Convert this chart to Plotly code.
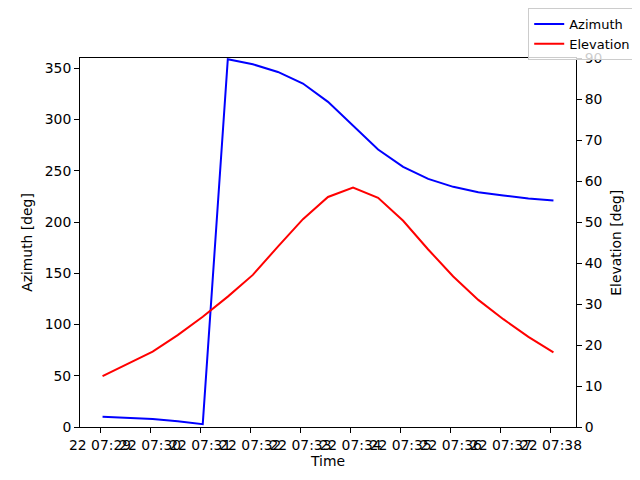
import plotly.graph_objects as go

# samples every 30 s
times = [
    "2024-01-22 07:29:03", "2024-01-22 07:29:33", "2024-01-22 07:30:03", "2024-01-22 07:30:33",
    "2024-01-22 07:31:03", "2024-01-22 07:31:33", "2024-01-22 07:32:03", "2024-01-22 07:32:33",
    "2024-01-22 07:33:03", "2024-01-22 07:33:33", "2024-01-22 07:34:03", "2024-01-22 07:34:33",
    "2024-01-22 07:35:03", "2024-01-22 07:35:33", "2024-01-22 07:36:03", "2024-01-22 07:36:33",
    "2024-01-22 07:37:03", "2024-01-22 07:37:33", "2024-01-22 07:38:03",
]
azimuth = [10.0, 9.0, 7.8, 5.5, 2.8, 358.8, 353.9, 346.4, 335.1, 317.2,
           294.4, 270.7, 253.8, 242.1, 234.3, 229.1, 225.9, 223.0, 221.0]
elevation = [12.4, 15.5, 18.4, 22.4, 26.9, 31.8, 37.1, 44.0, 50.7, 56.1,
             58.4, 55.9, 50.3, 43.3, 36.7, 31.0, 26.3, 22.0, 18.2]

tick_times = ["2024-01-22 07:%02d:00" % m for m in range(29, 39)]
tick_labels = ["22 07:%02d" % m for m in range(29, 39)]
az_ticks = [0, 50, 100, 150, 200, 250, 300, 350]
el_ticks = [0, 10, 20, 30, 40, 50, 60, 70, 80, 90]

font = dict(family="DejaVu Sans", size=13.9, color="black")
axis_style = dict(showline=True, linecolor="black", linewidth=1, ticks="outside",
                  ticklen=5, tickcolor="black", showgrid=False, zeroline=False,
                  tickfont=font, automargin=False)

fig = go.Figure()
fig.add_trace(go.Scatter(x=times, y=azimuth, mode="lines", name="Azimuth",
                         line=dict(color="blue", width=2)))
fig.add_trace(go.Scatter(x=times, y=elevation, mode="lines", name="Elevation",
                         line=dict(color="red", width=2), yaxis="y2"))

# page body adds an 8px offset, so the figure is 8px smaller each way
fig.update_layout(
    width=632, height=472,
    margin=dict(l=72, r=64, t=50, b=53, autoexpand=False),
    plot_bgcolor="white", paper_bgcolor="white",
    font=font,
    showlegend=True,
    legend=dict(xref="container", yref="container", x=0.994, y=1.0,
                xanchor="right", yanchor="top",
                bordercolor="#cccccc", borderwidth=1,
                bgcolor="rgba(255,255,255,0.8)",
                font=dict(family="DejaVu Sans", size=13, color="black"),
                tracegroupgap=0),
    xaxis=dict(type="date", range=["2024-01-22 07:28:36", "2024-01-22 07:38:30"],
               tickmode="array", tickvals=tick_times, ticktext=tick_labels,
               tickangle=0, mirror=True,
               title=dict(text="Time", font=font, standoff=4), **axis_style),
    yaxis=dict(range=[0, 360], tickmode="array", tickvals=az_ticks,
               title=dict(text="Azimuth [deg]", font=font, standoff=8), **axis_style),
    yaxis2=dict(range=[0, 90], overlaying="y", side="right", tickmode="array",
                tickvals=el_ticks, **axis_style),
)

# right-hand axis title (placed by hand, the overlaying axis puts it inside)
fig.add_annotation(text="Elevation [deg]", xref="paper", yref="paper",
                   x=1.079, y=0.5, xanchor="center", yanchor="middle",
                   textangle=-90, showarrow=False, font=font)

fig.write_html("out.html")
